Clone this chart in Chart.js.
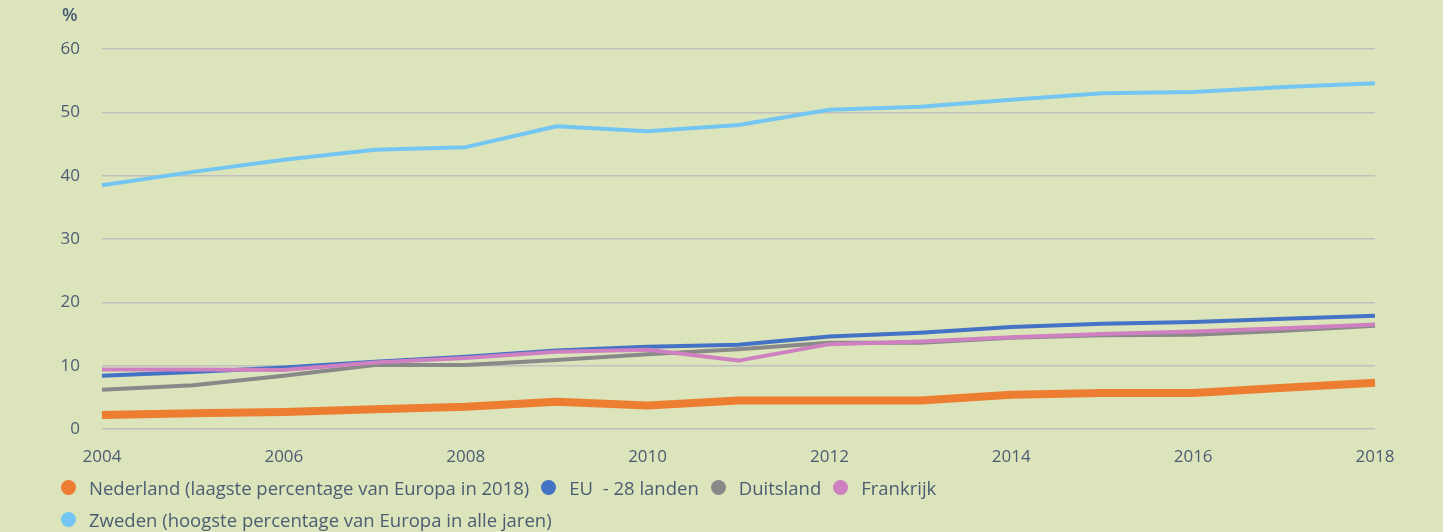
<!DOCTYPE html>
<html>
<head>
<meta charset="utf-8">
<script src="https://cdn.jsdelivr.net/npm/chart.js@4/dist/chart.umd.min.js"></script>
<style>
  html, body { margin: 0; padding: 0; background: #dce4bb; }
  #wrap { position: relative; width: 1443px; height: 532px; background: #dce4bb; overflow: hidden; }
  #c { position: absolute; left: 0; top: 0; }
  #unit { position: absolute; left: 62px; top: 2px; font: 600 18px "Open Sans", sans-serif; color: #4b5d73; }
  #legend { position: absolute; left: 61px; top: 471px; font: 18.5px "Open Sans", sans-serif; color: #4b5d73; }
  .row { height: 32px; display: flex; align-items: center; white-space: pre; }
  .item { display: flex; align-items: center; margin-right: 12px; }
  .dot { width: 15px; height: 15px; border-radius: 50%; margin-right: 13px; }
</style>
</head>
<body>
<div id="wrap">
  <canvas id="c" width="1443" height="532"></canvas>
  <div id="unit">%</div>
  <div id="legend"></div>
</div>
<script>
const years = ['2004','2005','2006','2007','2008','2009','2010','2011','2012','2013','2014','2015','2016','2017','2018'];
const yTicks = [0, 10, 20, 30, 40, 50, 60];
const seriesNames = ['Nederland (laagste percentage van Europa in 2018)', 'EU  - 28 landen', 'Duitsland', 'Frankrijk', 'Zweden (hoogste percentage van Europa in alle jaren)'];
const nederland = [2.2, 2.5, 2.7, 3.1, 3.5, 4.3, 3.7, 4.5, 4.5, 4.5, 5.4, 5.7, 5.7, 6.5, 7.3];
const eu28 = [8.4, 9.0, 9.7, 10.6, 11.4, 12.4, 13.0, 13.3, 14.6, 15.2, 16.1, 16.6, 16.9, 17.4, 17.9];
const duitsland = [6.2, 6.9, 8.4, 10.1, 10.1, 10.9, 11.8, 12.6, 13.6, 13.6, 14.4, 14.8, 14.9, 15.5, 16.3];
const frankrijk = [9.4, 9.4, 9.3, 10.5, 11.2, 12.2, 12.5, 10.8, 13.4, 13.8, 14.5, 15.0, 15.4, 15.9, 16.5];
const zweden = [38.5, 40.6, 42.5, 44.1, 44.5, 47.8, 47.0, 48.0, 50.4, 50.9, 52.0, 53.0, 53.2, 54.0, 54.6];

const colors = ['#ed7d31', '#4472c4', '#898989', '#cf80c0', '#74c6f2'];
const widths = [8, 4, 4, 4, 4];
const values = [nederland, eu28, duitsland, frankrijk, zweden];

const datasets = values.map((v, i) => ({
  label: seriesNames[i],
  data: v,
  borderColor: colors[i],
  backgroundColor: colors[i],
  borderWidth: widths[i],
  pointRadius: 0,
  tension: 0,
  fill: false,
  order: 5 - i,
  borderJoinStyle: 'round'
}));

const fontFam = '"Open Sans", sans-serif';
const textColor = '#4b5d73';
new Chart(document.getElementById('c'), {
  type: 'line',
  data: { labels: years, datasets },
  options: {
    responsive: false,
    animation: false,
    layout: { padding: { top: 49, right: 68, left: 0, bottom: 0 } },
    plugins: { legend: { display: false }, tooltip: { enabled: false } },
    scales: {
      x: {
        offset: false,
        grid: { display: false, drawTicks: false },
        border: { display: false },
        ticks: {
          color: textColor, font: { family: fontFam, size: 17 }, padding: 18,
          maxRotation: 0, autoSkip: false,
          callback: (val, idx) => (idx % 2 === 0 ? years[idx] : '')
        },
        afterFit: s => { s.height = 103; }
      },
      y: {
        min: 0, max: 60,
        afterBuildTicks: s => { s.ticks = yTicks.map(v => ({ value: v })); },
        grid: { color: '#c0c0c0', lineWidth: 1.5, drawTicks: false },
        border: { display: false },
        ticks: { color: textColor, font: { family: fontFam, size: 17 }, padding: 22 },
        afterFit: s => { s.width = 102; }
      }
    }
  }
});

// HTML legend built from the series arrays
const legend = document.getElementById('legend');
const rows = [[0, 1, 2, 3], [4]];
rows.forEach(r => {
  const row = document.createElement('div');
  row.className = 'row';
  r.forEach(i => {
    const it = document.createElement('div');
    it.className = 'item';
    const d = document.createElement('span');
    d.className = 'dot';
    d.style.background = colors[i];
    const t = document.createElement('span');
    t.textContent = seriesNames[i];
    it.appendChild(d); it.appendChild(t);
    row.appendChild(it);
  });
  legend.appendChild(row);
});
</script>
</body>
</html>
